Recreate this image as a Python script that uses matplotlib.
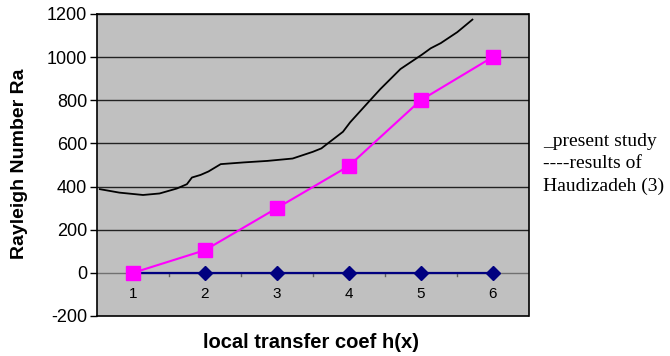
import matplotlib
matplotlib.use('Agg')
import matplotlib.pyplot as plt
import numpy as np

# category positions and the two marker series
categories = [1, 2, 3, 4, 5, 6]
present_study = [0, 105, 300, 495, 800, 1000]
zero_series = [0, 0, 0, 0, 0, 0]

# hand drawn curve (results of Haudizadeh)
curve_x = [0.54, 0.81, 1.14, 1.37, 1.61, 1.75, 1.82, 1.94, 2.05, 2.22, 2.54, 2.87,
           3.22, 3.50, 3.62, 3.74, 3.92, 4.02, 4.27, 4.44, 4.72, 5.02, 5.14, 5.28,
           5.51, 5.72]
curve_y = [388, 372, 361, 368, 391, 411, 442, 454, 470, 504, 512, 519,
           530, 561, 577, 608, 654, 698, 790, 852, 945, 1012, 1041, 1065,
           1116, 1174]

y_ticks = [-200, 0, 200, 400, 600, 800, 1000, 1200]
legend_lines = ['_present study', '----results of', 'Haudizadeh (3)']

plt.rcParams['font.family'] = ['Liberation Sans', 'DejaVu Sans']

fig = plt.figure(figsize=(6.7, 3.56), dpi=100)
ax = fig.add_axes([97 / 670, 40 / 356, 431.5 / 670, 302 / 356])
ax.set_facecolor('#C0C0C0')

for v in y_ticks[2:]:
    ax.axhline(v, color='#222222', lw=1.0, zorder=1)
ax.axhline(0, color='#707070', lw=1.0, zorder=1)

# small tick marks on the zero line between categories
for xm in np.arange(1.5, 6.5, 1.0):
    ax.plot([xm, xm], [0, -15], color='#606060', lw=1.0, zorder=1)

ax.plot(curve_x, curve_y, color='black', lw=1.3, zorder=3)
ax.plot(categories, zero_series, color='#000080', lw=1.6, marker='D',
        markersize=7.5, zorder=4)
ax.plot(categories, present_study, color='#FF00FF', lw=1.5, marker='s',
        markersize=9.5, zorder=5)

ax.set_xlim(0.5, 6.5)
ax.set_ylim(-200, 1200)
ax.set_yticks(y_ticks)
ax.set_yticklabels([str(v) for v in y_ticks], fontsize=13)
ax.set_xticks([])
for c in categories:
    ax.text(c, -100, str(c), ha='center', va='center', fontsize=11)

ax.tick_params(axis='y', direction='out', length=5, width=1, pad=2)
for s in ax.spines.values():
    s.set_color('black')
    s.set_linewidth(1.2)

fig.text(20 / 670, 1 - 164 / 356, 'Rayleigh Number Ra', rotation=90,
         ha='center', va='center', fontsize=14, fontweight='bold')
fig.text(311 / 670, 1 - 343 / 356, 'local transfer coef h(x)',
         ha='center', va='center', fontsize=14.5, fontweight='bold')

for i, line in enumerate(legend_lines):
    fig.text(543 / 670, 1 - (141 + 22.5 * i) / 356, line, ha='left', va='center',
             fontsize=14, family='Liberation Serif')

fig.savefig('out.png', dpi=100)
